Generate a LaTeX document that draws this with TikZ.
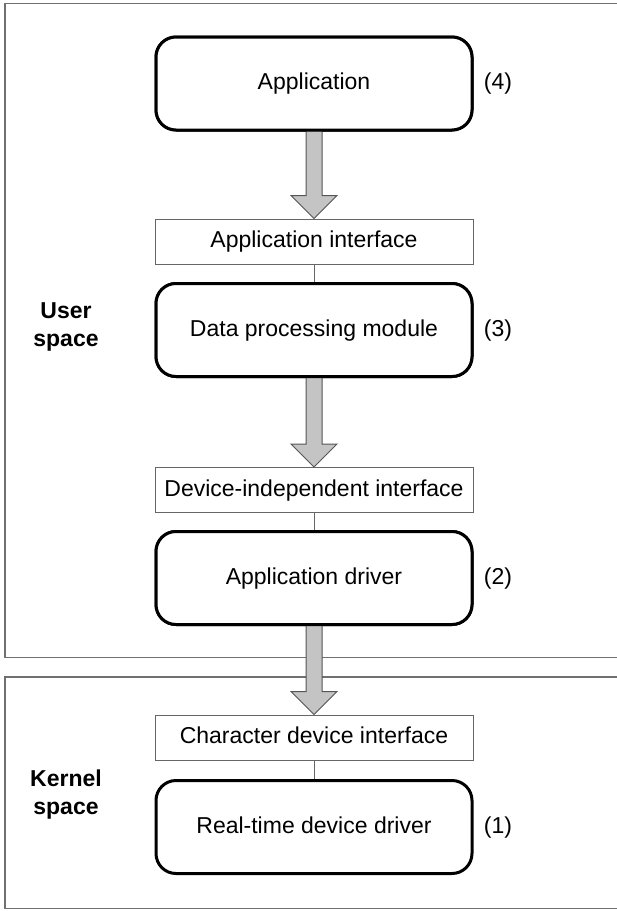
\documentclass[tikz,border=0pt]{standalone}
\usepackage{fontspec}
\setmainfont{Liberation Sans}
\usetikzlibrary{calc}
\definecolor{framegray}{HTML}{707070}
\definecolor{arrowfill}{HTML}{C4C4C4}
\definecolor{arrowline}{HTML}{555555}
\definecolor{ifline}{HTML}{666666}
\tikzset{
  modbox/.style={draw=black, line width=3pt, rounded corners=20pt, minimum width=316pt, minimum height=93pt, inner sep=0pt, text height=17pt, text depth=5pt, font=\fontsize{23}{27}\selectfont, fill=white},
  ifbox/.style={draw=ifline, line width=1pt, minimum width=318pt, minimum height=45pt, inner sep=0pt, text height=17pt, text depth=5pt, font=\fontsize{23}{27}\selectfont, fill=white},
  numlabel/.style={font=\fontsize{23}{27}\selectfont, inner sep=0pt, text height=17pt, text depth=5pt},
  spacelabel/.style={font=\bfseries\fontsize{23}{28}\selectfont, align=center, inner sep=0pt},
  frameline/.style={draw=framegray, line width=1.5pt},
  barrow/.style={fill=arrowfill, draw=arrowline, line width=1pt, line join=miter},
  link/.style={draw=ifline, line width=1pt}
}
\newcommand{\blockarrow}[2]{%
  \draw[barrow] ($(#1.south)+(-8,-1)$) -- ($(#2.north)+(-8,-23)$) -- ($(#2.north)+(-23,-23)$) -- (#2.north) -- ($(#2.north)+(23,-23)$) -- ($(#2.north)+(8,-23)$) -- ($(#1.south)+(8,-1)$) -- cycle;}
\begin{document}
\begin{tikzpicture}[x=1pt, y=-1pt]
\useasboundingbox (0,0) rectangle (617,911);
% frames
\draw[frameline] (620,3.5) -- (5,3.5) -- (5,657.5) -- (620,657.5);
\draw[frameline] (620,677) -- (5,677) -- (5,908.5) -- (620,908.5);
\node[spacelabel] (user) at (66,327) {User\\space};
\node[spacelabel] (kernel) at (66,795) {Kernel\\space};
% nodes
\node[modbox] (app) at (314,83.5) {Application};
\node[ifbox] (appif) at (314,241.5) {Application interface};
\node[modbox] (dpm) at (314,330) {Data processing module};
\node[ifbox] (devif) at (314,490) {Device-independent interface};
\node[modbox] (drv) at (314,578) {Application driver};
\node[ifbox] (chrif) at (314,737.5) {Character device interface};
\node[modbox] (rtd) at (314,827) {Real-time device driver};
% arrows
\blockarrow{app}{appif}
\blockarrow{dpm}{devif}
\blockarrow{drv}{chrif}
% redraw boxes on top of arrow starts
\node[modbox] at (app) {Application};
\node[modbox] at (dpm) {Data processing module};
\node[modbox] at (drv) {Application driver};
% links
\draw[link] (appif.south) -- (dpm.north);
\draw[link] (devif.south) -- (drv.north);
\draw[link] (chrif.south) -- (rtd.north);
% numbers
\node[numlabel] (n4) at (498,83.5) {(4)};
\node[numlabel] (n3) at (498,330) {(3)};
\node[numlabel] (n2) at (498,578) {(2)};
\node[numlabel] (n1) at (498,827) {(1)};
\end{tikzpicture}
\end{document}
